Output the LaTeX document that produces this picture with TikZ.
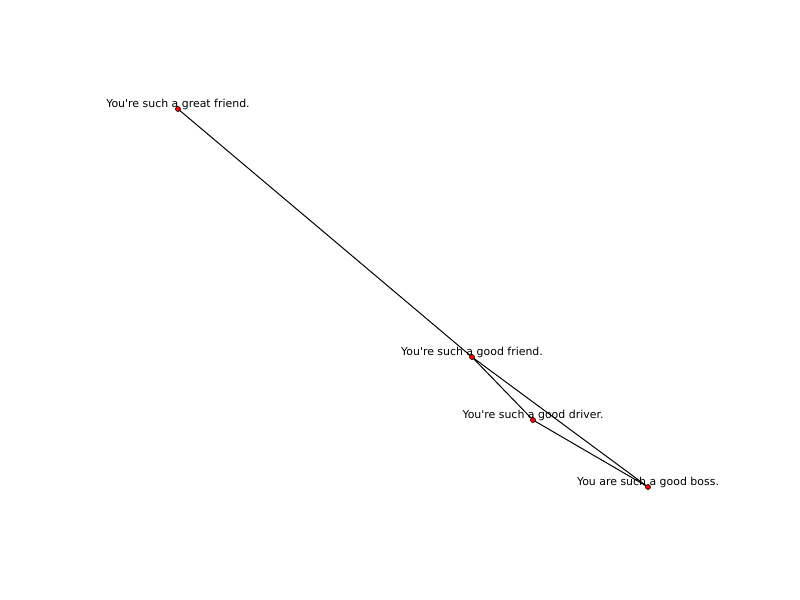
\documentclass[tikz,border=0pt]{standalone}
\usepackage{fontspec}
\setmainfont{DejaVu Sans}[Ligatures=TeXOff]
\begin{document}
\begin{tikzpicture}[x=0.75pt,y=-0.75pt,
  dot/.style={circle,draw=black,fill=red,line width=0.4pt,inner sep=0pt,minimum size=3.8pt},
  lbl/.style={font=\fontsize{8.2}{9}\selectfont,anchor=base,inner sep=0pt},
  edge/.style={draw=black,line width=0.75pt}]
\useasboundingbox (0,0) rectangle (800,600);
\coordinate (a) at (178,109);
\coordinate (b) at (472,357);
\coordinate (c) at (533,420);
\coordinate (d) at (648,487);
\draw[edge] (a) -- (b);
\draw[edge] (b) -- (c);
\draw[edge] (b) -- (d);
\draw[edge] (c) -- (d);
\node[dot] (na) at (a) {};
\node[dot] (nb) at (b) {};
\node[dot] (nc) at (c) {};
\node[dot] (nd) at (d) {};
\node[lbl] (la) at (178,107) {You're such a great friend.};
\node[lbl] (lb) at (472,355) {You're such a good friend.};
\node[lbl] (lc) at (533,418) {You're such a good driver.};
\node[lbl] (ld) at (648,485) {You are such a good boss.};
\end{tikzpicture}
\end{document}
